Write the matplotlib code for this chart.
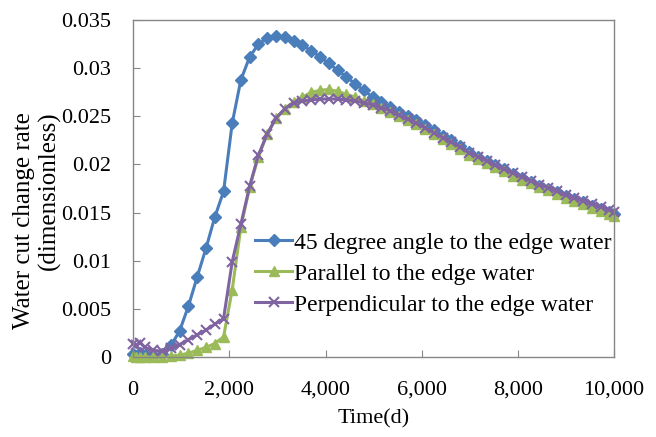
import matplotlib
matplotlib.use("Agg")
import matplotlib.pyplot as plt
from matplotlib.ticker import FuncFormatter

# time steps (days)
days = [0, 60, 150, 240, 420, 600, 785, 965, 1150, 1330, 1515, 1695, 1880, 2060,
        2240, 2425, 2605, 2790, 2970, 3155, 3335, 3520, 3700, 3885, 4065, 4250,
        4430, 4615, 4795, 4980, 5160, 5345, 5525, 5710, 5890, 6075, 6255, 6440,
        6620, 6805, 6985, 7170, 7350, 7535, 7715, 7900, 8080, 8265, 8445, 8630,
        8810, 8995, 9175, 9360, 9540, 9725, 9905, 10000]

# 45 degree angle to the edge water
angle45 = [0.0003, 0.0001, 0.0004, 0.0002, 0.0001, 0.0003, 0.0012, 0.0027, 0.0053,
           0.0083, 0.0113, 0.0145, 0.0172, 0.0243, 0.0288, 0.0312, 0.0325, 0.0331,
           0.0334, 0.0332, 0.0328, 0.0324, 0.0318, 0.0312, 0.0305, 0.0298, 0.0291,
           0.0284, 0.0277, 0.0270, 0.0265, 0.0260, 0.0255, 0.0250, 0.0246, 0.0241,
           0.0236, 0.0230, 0.0225, 0.0219, 0.0213, 0.0208, 0.0204, 0.0199, 0.0195,
           0.0190, 0.0186, 0.0182, 0.0178, 0.0175, 0.0171, 0.0167, 0.0164, 0.0161,
           0.0157, 0.0154, 0.0151, 0.0149]

# parallel to the edge water
parallel = [0.0001, 0.0000, 0.0000, 0.0000, 0.0000, 0.0000, 0.0001, 0.0002, 0.0004,
            0.0007, 0.0010, 0.0014, 0.0021, 0.0070, 0.0135, 0.0177, 0.0208, 0.0232,
            0.0248, 0.0258, 0.0265, 0.0270, 0.0275, 0.0277, 0.0278, 0.0276, 0.0273,
            0.0270, 0.0266, 0.0263, 0.0259, 0.0255, 0.0250, 0.0246, 0.0242, 0.0237,
            0.0232, 0.0226, 0.0221, 0.0216, 0.0210, 0.0206, 0.0202, 0.0197, 0.0193,
            0.0188, 0.0184, 0.0181, 0.0177, 0.0173, 0.0169, 0.0165, 0.0162, 0.0159,
            0.0155, 0.0152, 0.0149, 0.0147]

# perpendicular to the edge water
perpendicular = [0.0014, 0.0012, 0.0015, 0.0010, 0.0007, 0.0006, 0.0009, 0.0013,
                 0.0018, 0.0023, 0.0028, 0.0034, 0.0040, 0.0099, 0.0138, 0.0178,
                 0.0210, 0.0232, 0.0248, 0.0258, 0.0264, 0.0266, 0.0267, 0.0268,
                 0.0268, 0.0268, 0.0267, 0.0266, 0.0264, 0.0262, 0.0259, 0.0256,
                 0.0251, 0.0247, 0.0243, 0.0238, 0.0233, 0.0228, 0.0223, 0.0218,
                 0.0212, 0.0208, 0.0204, 0.0199, 0.0195, 0.0191, 0.0187, 0.0183,
                 0.0179, 0.0176, 0.0172, 0.0168, 0.0165, 0.0162, 0.0159, 0.0156,
                 0.0153, 0.0151]

labels = ["45 degree angle to the edge water",
          "Parallel to the edge water",
          "Perpendicular to the edge water"]

plt.rcParams['font.family'] = ['Liberation Serif', 'DejaVu Serif']

fig = plt.figure(figsize=(6.56, 4.37), dpi=100)
ax = fig.add_axes([0.203, 0.183, 0.733, 0.771])

ax.plot(days, angle45, color='#4A7EBB', lw=2.2, marker='D', ms=6.5, label=labels[0],
        clip_on=False)
ax.plot(days, parallel, color='#9BBB59', lw=2.2, marker='^', ms=7.5, label=labels[1],
        clip_on=False)
ax.plot(days, perpendicular, color='#8064A2', lw=2.2, marker='x', ms=7.5, mew=1.5,
        label=labels[2], clip_on=False)

ax.set_xlim(0, 10000)
ax.set_ylim(0, 0.035)
ax.set_xticks([0, 2000, 4000, 6000, 8000, 10000])
ax.set_yticks([0, 0.005, 0.01, 0.015, 0.02, 0.025, 0.03, 0.035])
ax.xaxis.set_major_formatter(FuncFormatter(lambda v, p: format(int(v), ',')))
ax.yaxis.set_major_formatter(FuncFormatter(lambda v, p: ('%.3f' % v).rstrip('0').rstrip('.') if v else '0'))
ax.tick_params(direction='in', length=5, color='#868686', labelsize=16)
ax.tick_params(axis='y', pad=16)
ax.tick_params(axis='x', pad=17)
for s in ax.spines.values():
    s.set_color('#868686')
    s.set_linewidth(1.0)

ax.set_xlabel("Time(d)", fontsize=16, labelpad=7)
fig.text(0.056, 0.744, "Water cut change rate\n(dimensionless)", fontsize=18,
         rotation=90, ha='center', va='top', multialignment='right',
         linespacing=1.15)

ax.legend(loc='lower left', bbox_to_anchor=(0.233, 0.095), frameon=False,
          fontsize=17, handlelength=1.6, handletextpad=0.05, labelspacing=0.4,
          borderaxespad=0)

fig.savefig("out.png", dpi=100)
